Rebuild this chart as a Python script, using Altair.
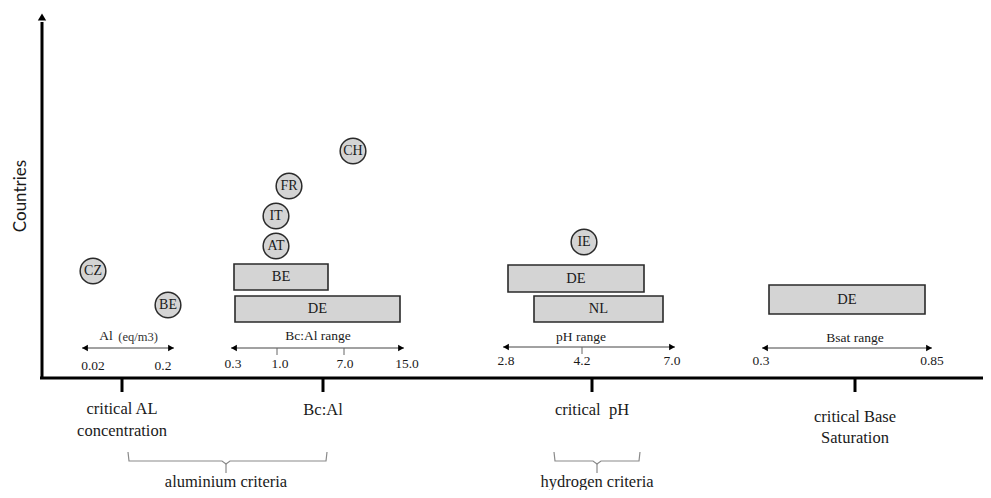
import altair as alt
import pandas as pd

# ---- diagram data (x measured from the vertical axis, y above the horizontal axis) ----
circle_labels = ["CZ", "BE", "CH", "FR", "IT", "AT", "IE"]
circle_x = [51, 126, 311, 247, 234, 234, 542]
circle_y = [107, 73, 227, 192, 162, 132, 136]

bar_labels = ["BE", "DE", "DE", "NL", "DE"]
bar_x0 = [192, 193, 466, 492, 727]
bar_x1 = [286, 358, 602, 621, 883]
bar_y0 = [88, 56, 86, 56, 64]
bar_y1 = [114, 82, 113, 82, 93]

arrow_names = ["Al", "Bc:Al", "pH", "Bsat"]
arrow_x0 = [40, 189, 461, 720]
arrow_x1 = [132, 362, 633, 890]
arrow_y = [30, 30, 31, 30]

arrow_tick_x = [235, 302, 540]
arrow_tick_y = [30, 30, 31]

range_titles = ["Bc:Al range", "pH range", "Bsat range"]
range_title_x = [276, 539, 813]
range_title_y = [42, 41, 40]

num_labels = ["0.02", "0.2", "0.3", "1.0", "7.0", "15.0", "2.8", "4.2", "7.0", "0.3", "0.85"]
num_x = [51, 121, 191, 238, 303, 365, 464, 540, 630, 719, 890]
num_y = [12, 12, 14, 14, 14, 14, 17, 17, 17, 17, 17]

criteria_x = [80, 281, 550, 813]
criteria_text = ["critical AL", "concentration", "Bc:Al", "critical\u00a0 pH", "critical Base", "Saturation"]
criteria_text_x = [80, 80, 281, 550, 813, 813]
criteria_text_y = [-31, -53, -32, -32, -39, -60]

group_names = ["aluminium criteria", "hydrogen criteria"]
group_left = [86, 512]
group_right = [285, 598]
group_mid = [184, 555]

# ---- scales ----
xs = alt.Scale(domain=[-34, 941], nice=False, zero=False)
ys = alt.Scale(domain=[-112, 370], nice=False, zero=False)
X = lambda f="x": alt.X(f + ":Q", scale=xs, axis=None)
Y = lambda f="y": alt.Y(f + ":Q", scale=ys, axis=None)
SERIF = "Liberation Serif"
INK = "#1a1a1a"

# axes
axes_df = pd.DataFrame({"x": [0, -2], "x2": [0, 945], "y": [0, 0], "y2": [356, 0]})
axes = alt.Chart(axes_df).mark_rule(color="black", strokeWidth=3).encode(
    x=X(), x2="x2:Q", y=Y(), y2="y2:Q")
yarrow = alt.Chart(pd.DataFrame({"x": [0], "y": [361]})).mark_point(
    shape="triangle-up", filled=True, color="black", size=70, opacity=1).encode(x=X(), y=Y())

crit_df = pd.DataFrame({"x": criteria_x, "y": [0] * 4, "y2": [-14] * 4})
crit_ticks = alt.Chart(crit_df).mark_rule(color="black", strokeWidth=3).encode(
    x=X(), y=Y(), y2="y2:Q")

crit_lab_df = pd.DataFrame({"x": criteria_text_x, "y": criteria_text_y, "t": criteria_text})
crit_labels = alt.Chart(crit_lab_df).mark_text(font=SERIF, fontSize=16.5, color=INK).encode(
    x=X(), y=Y(), text="t:N")

# brackets
br_rows = []
for i, (l, r, m) in enumerate(zip(group_left, group_right, group_mid)):
    pts = [(l, -74), (l + 1, -83), (m - 4, -83), (m, -86), (m + 4, -83), (r - 1, -83), (r, -74)]
    for k, (px, py) in enumerate(pts):
        br_rows.append({"g": f"b{i}", "o": k, "x": px, "y": py})
    br_rows.append({"g": f"s{i}", "o": 0, "x": m, "y": -86})
    br_rows.append({"g": f"s{i}", "o": 1, "x": m, "y": -95})
brackets = alt.Chart(pd.DataFrame(br_rows)).mark_line(color="#8a8a8a", strokeWidth=1.2).encode(
    x=X(), y=Y(), detail="g:N", order="o:Q")
grp_df = pd.DataFrame({"x": group_mid, "y": [-104, -104], "t": group_names})
grp_labels = alt.Chart(grp_df).mark_text(font=SERIF, fontSize=16.5, color=INK).encode(
    x=X(), y=Y(), text="t:N")

# Countries title
ctitle = alt.Chart(pd.DataFrame({"x": [-21], "y": [182], "t": ["Countries"]})).mark_text(
    font="Lato", fontSize=17, angle=270, color=INK).encode(x=X(), y=Y(), text="t:N")

# range arrows
arr_df = pd.DataFrame({"x": arrow_x0, "x2": arrow_x1, "y": arrow_y})
arr_lines = alt.Chart(arr_df).mark_rule(color="#444", strokeWidth=1).encode(
    x=X(), x2="x2:Q", y=Y())
head_df = pd.DataFrame({
    "x": [v + 3 for v in arrow_x0] + [v - 3 for v in arrow_x1],
    "y": arrow_y + arrow_y,
    "s": ["triangle-left"] * 4 + ["triangle-right"] * 4})
heads = alt.Chart(head_df).mark_point(filled=True, color="black", size=45, opacity=1).encode(
    x=X(), y=Y(), shape=alt.Shape("s:N", scale=None))
at_df = pd.DataFrame({"x": arrow_tick_x, "y": arrow_tick_y, "y2": [v - 7 for v in arrow_tick_y]})
a_ticks = alt.Chart(at_df).mark_rule(color="#666", strokeWidth=1).encode(x=X(), y=Y(), y2="y2:Q")

rt_df = pd.DataFrame({"x": range_title_x, "y": range_title_y, "t": range_titles})
rtitles = alt.Chart(rt_df).mark_text(font=SERIF, fontSize=13.5, color=INK).encode(
    x=X(), y=Y(), text="t:N")
al_title = alt.Chart(pd.DataFrame({"x": [64], "y": [42], "t": ["Al"]})).mark_text(
    font=SERIF, fontSize=13.5, color=INK).encode(x=X(), y=Y(), text="t:N")
al_unit = alt.Chart(pd.DataFrame({"x": [96], "y": [41], "t": ["(eq/m3)"]})).mark_text(
    font=SERIF, fontSize=12.5, color="#333").encode(x=X(), y=Y(), text="t:N")

num_df = pd.DataFrame({"x": num_x, "y": num_y, "t": num_labels})
nums = alt.Chart(num_df).mark_text(font=SERIF, fontSize=13.5, color=INK).encode(
    x=X(), y=Y(), text="t:N")

# bars
bar_df = pd.DataFrame({"x": bar_x0, "x2": bar_x1, "y": bar_y0, "y2": bar_y1, "t": bar_labels})
bar_df["cx"] = (bar_df["x"] + bar_df["x2"]) / 2
bar_df["cy"] = (bar_df["y"] + bar_df["y2"]) / 2
bars = alt.Chart(bar_df).mark_rect(fill="#d4d4d4", stroke="#2a2a2a", strokeWidth=1.6).encode(
    x=X(), x2="x2:Q", y=Y(), y2="y2:Q")
bar_text = alt.Chart(bar_df).mark_text(font=SERIF, fontSize=14.5, color=INK).encode(
    x=X("cx"), y=Y("cy"), text="t:N")

# circles
cir_df = pd.DataFrame({"x": circle_x, "y": circle_y, "t": circle_labels})
circles = alt.Chart(cir_df).mark_point(
    shape="circle", filled=True, fill="#d4d4d4", stroke="#2a2a2a", strokeWidth=1.5,
    size=660, opacity=1).encode(x=X(), y=Y())
cir_text = alt.Chart(cir_df).mark_text(font=SERIF, fontSize=14, color=INK).encode(
    x=X(), y=Y(), text="t:N")

chart = alt.layer(
    axes, yarrow, crit_ticks, crit_labels, brackets, grp_labels, ctitle,
    arr_lines, heads, a_ticks, rtitles, al_title, al_unit, nums,
    bars, bar_text, circles, cir_text,
).properties(
    width=975, height=482, padding=0, autosize=alt.AutoSizeParams(type="none")
).configure_view(stroke=None)

chart.save("out.html", embed_options={"renderer": "svg", "actions": False})
